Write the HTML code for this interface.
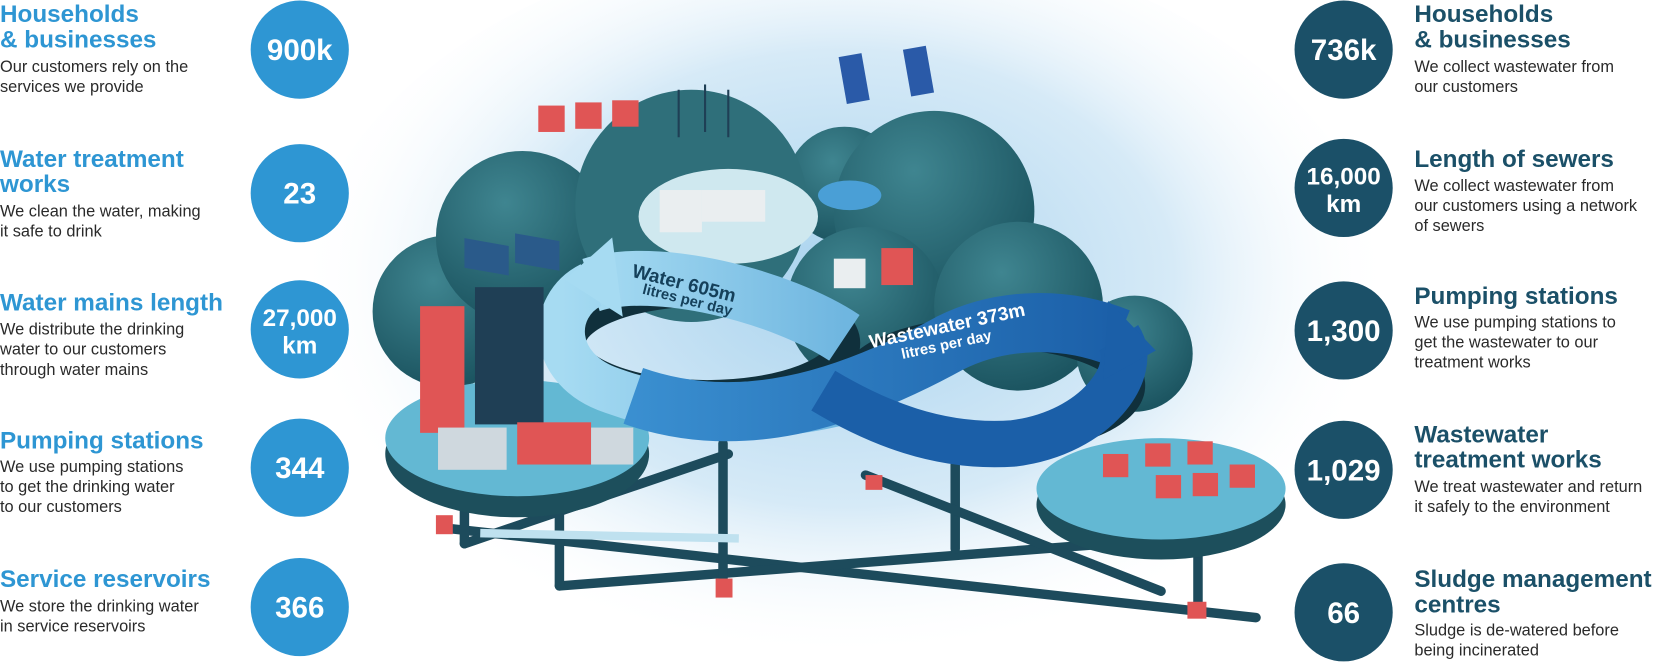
<!DOCTYPE html>
<html><head><meta charset="utf-8"><style>
html,body{margin:0;padding:0;background:#fff;width:1655px;height:663px;overflow:hidden}
svg{display:block}
.t{font-family:"Liberation Sans",sans-serif;font-weight:bold;font-size:23px}
.b{font-family:"Liberation Sans",sans-serif;font-size:15.5px;fill:#2a2a2a}
.n{font-family:"Liberation Sans",sans-serif;font-weight:bold;fill:#fff;text-anchor:middle}
</style></head><body>
<svg width="1655" height="663" viewBox="0 0 1568 628" preserveAspectRatio="none" xmlns="http://www.w3.org/2000/svg">
<defs>
<radialGradient id="bg" cx="0.5" cy="0.45" r="0.5">
<stop offset="0" stop-color="#a9d3ee"/><stop offset="0.6" stop-color="#d6eaf7"/><stop offset="1" stop-color="#ffffff" stop-opacity="0"/>
</radialGradient>
<radialGradient id="hill" cx="0.4" cy="0.3" r="0.7">
<stop offset="0" stop-color="#3f8590"/><stop offset="1" stop-color="#1c5561"/>
</radialGradient>
<linearGradient id="wb" x1="0" x2="1"><stop offset="0" stop-color="#a6dbf2"/><stop offset="1" stop-color="#6fb6e0"/></linearGradient>
<linearGradient id="ww" x1="0" x2="1"><stop offset="0" stop-color="#3a8fd0"/><stop offset="1" stop-color="#1b5fa8"/></linearGradient>
</defs>
<ellipse cx="800" cy="300" rx="520" ry="360" fill="url(#bg)"/>
<g stroke="#1d4b5c" stroke-width="9" fill="none" stroke-linecap="round">
<path d="M420 500 L1190 585"/><path d="M530 555 L1180 505"/><path d="M440 515 L690 430"/>
<path d="M530 555 L530 420"/><path d="M685 560 L685 420"/><path d="M905 520 L905 440"/>
<path d="M1135 575 L1135 490"/><path d="M820 450 L1100 560"/><path d="M440 515 L440 460"/>
</g>
<g fill="#e05555"><rect x="413" y="488" width="16" height="18"/><rect x="678" y="548" width="16" height="18"/><rect x="820" y="450" width="16" height="14"/><rect x="1125" y="570" width="18" height="16"/></g>
<path d="M455 505 L700 510" stroke="#bfe1ef" stroke-width="8"/>
<circle cx="425" cy="295" r="72" fill="url(#hill)"/>
<circle cx="495" cy="225" r="82" fill="url(#hill)"/>
<circle cx="800" cy="175" r="55" fill="url(#hill)"/>
<circle cx="885" cy="200" r="95" fill="url(#hill)"/>
<circle cx="655" cy="195" r="110" fill="#2f6f7a"/>
<ellipse cx="690" cy="205" rx="85" ry="45" fill="#cfe8ef"/>
<circle cx="820" cy="290" r="75" fill="url(#hill)"/>
<circle cx="965" cy="290" r="80" fill="url(#hill)"/>
<circle cx="1075" cy="335" r="55" fill="url(#hill)"/>
<ellipse cx="805" cy="185" rx="30" ry="14" fill="#4a9fd6"/>
<ellipse cx="490" cy="430" rx="125" ry="60" fill="#1d4f5c"/>
<ellipse cx="490" cy="415" rx="125" ry="55" fill="#63b8d3"/>
<ellipse cx="1100" cy="478" rx="118" ry="52" fill="#1d4f5c"/>
<ellipse cx="1100" cy="463" rx="118" ry="48" fill="#63b8d3"/>
<ellipse cx="670" cy="325" rx="130" ry="50" fill="none" stroke="#10303c" stroke-width="30"/>
<ellipse cx="940" cy="365" rx="130" ry="50" fill="none" stroke="#10303c" stroke-width="30"/>
<path d="M560 270 C620 250 740 280 800 320" stroke="url(#wb)" stroke-width="52" fill="none"/>
<path d="M560 270 C520 290 520 350 580 370 C650 395 720 400 800 380" stroke="url(#wb)" stroke-width="44" fill="none"/>
<path d="M600 375 C700 410 800 380 900 325 C950 300 1010 300 1060 320" stroke="url(#ww)" stroke-width="56" fill="none"/>
<path d="M1060 320 C1080 350 1040 410 960 420 C890 425 830 400 780 370" stroke="#1b5fa8" stroke-width="44" fill="none"/>
<polygon points="535,265 580,225 590,300" fill="#a6dbf2"/>
<polygon points="1050,285 1095,332 1045,360" fill="#1b5fa8"/>
<text transform="translate(598,262) rotate(14)" class="n" style="fill:#15405a;font-size:18px;text-anchor:start">Water 605m</text>
<text transform="translate(608,278) rotate(14)" class="n" style="fill:#15405a;font-size:14px;text-anchor:start">litres per day</text>
<text transform="translate(825,330) rotate(-12)" class="n" style="font-size:18px;text-anchor:start">Wastewater 373m</text>
<text transform="translate(855,340) rotate(-12)" class="n" style="font-size:14px;text-anchor:start">litres per day</text>
<rect x="398" y="290" width="42" height="120" fill="#e05555"/>
<rect x="450" y="272" width="65" height="130" fill="#1f3f55"/>
<rect x="415" y="405" width="65" height="40" fill="#cfd8de"/>
<rect x="490" y="400" width="70" height="40" fill="#e05555"/>
<rect x="560" y="405" width="40" height="35" fill="#cfd8de"/>
<rect x="510" y="100" width="25" height="25" fill="#e05555"/><rect x="545" y="97" width="25" height="25" fill="#e05555"/><rect x="580" y="95" width="25" height="25" fill="#e05555"/>
<rect x="440" y="148" width="42" height="28" fill="#2a5a8a" transform="skewY(10)"/><rect x="488" y="135" width="42" height="28" fill="#2a5a8a" transform="skewY(10)"/>
<rect x="625" y="180" width="40" height="40" fill="#eaeef0"/><rect x="665" y="180" width="60" height="30" fill="#eaeef0"/>
<rect x="790" y="245" width="30" height="28" fill="#eaeef0"/><rect x="835" y="235" width="30" height="35" fill="#e05555"/>
<g fill="#e05555"><rect x="1045" y="430" width="24" height="22"/><rect x="1085" y="420" width="24" height="22"/><rect x="1125" y="418" width="24" height="22"/><rect x="1095" y="450" width="24" height="22"/><rect x="1130" y="448" width="24" height="22"/><rect x="1165" y="440" width="24" height="22"/></g>
<rect x="798" y="50" width="22" height="45" fill="#2a5aa8" transform="rotate(-10 820 72)"/><rect x="860" y="45" width="22" height="45" fill="#2a5aa8" transform="rotate(-10 870 72)"/>
<g stroke="#1f3f55" stroke-width="2"><line x1="643" y1="85" x2="643" y2="130"/><line x1="668" y1="80" x2="668" y2="125"/><line x1="690" y1="85" x2="690" y2="130"/></g>
<g fill="#2e96d3">
<circle cx="284" cy="47" r="46.5"/><circle cx="284" cy="183" r="46.5"/><circle cx="284" cy="312" r="46.5"/><circle cx="284" cy="443" r="46.5"/><circle cx="284" cy="575" r="46.5"/>
</g>
<g class="t" fill="#2e96d3">
<text x="0" y="21">Households</text><text x="0" y="45">&amp; businesses</text>
<text x="0" y="158">Water treatment</text><text x="0" y="182">works</text>
<text x="0" y="294">Water mains length</text>
<text x="0" y="425">Pumping stations</text>
<text x="0" y="556">Service reservoirs</text>
</g>
<g class="b">
<text x="0" y="68">Our customers rely on the</text><text x="0" y="87">services we provide</text>
<text x="0" y="205">We clean the water, making</text><text x="0" y="224">it safe to drink</text>
<text x="0" y="317">We distribute the drinking</text><text x="0" y="336">water to our customers</text><text x="0" y="355">through water mains</text>
<text x="0" y="447">We use pumping stations</text><text x="0" y="466">to get the drinking water</text><text x="0" y="485">to our customers</text>
<text x="0" y="579">We store the drinking water</text><text x="0" y="598">in service reservoirs</text>
</g>
<g class="n" style="font-size:28px">
<text x="284" y="57">900k</text><text x="284" y="193">23</text>
<text x="284" y="309" style="font-size:23px">27,000</text><text x="284" y="335" style="font-size:23px">km</text>
<text x="284" y="453">344</text><text x="284" y="585">366</text>
</g>
<g fill="#1b5068">
<circle cx="1273" cy="47" r="46.5"/><circle cx="1273" cy="178" r="46.5"/><circle cx="1273" cy="313" r="46.5"/><circle cx="1273" cy="445" r="46.5"/><circle cx="1273" cy="580" r="46.5"/>
</g>
<g class="n" style="font-size:28px">
<text x="1273" y="57">736k</text>
<text x="1273" y="175" style="font-size:23px">16,000</text><text x="1273" y="201" style="font-size:23px">km</text>
<text x="1273" y="323">1,300</text><text x="1273" y="455">1,029</text><text x="1273" y="590">66</text>
</g>
<g class="t" fill="#1b5068">
<text x="1340" y="21">Households</text><text x="1340" y="45">&amp; businesses</text>
<text x="1340" y="158">Length of sewers</text>
<text x="1340" y="288">Pumping stations</text>
<text x="1340" y="419">Wastewater</text><text x="1340" y="443">treatment works</text>
<text x="1340" y="556">Sludge management</text><text x="1340" y="580">centres</text>
</g>
<g class="b">
<text x="1340" y="68">We collect wastewater from</text><text x="1340" y="87">our customers</text>
<text x="1340" y="181">We collect wastewater from</text><text x="1340" y="200">our customers using a network</text><text x="1340" y="219">of sewers</text>
<text x="1340" y="310">We use pumping stations to</text><text x="1340" y="329">get the wastewater to our</text><text x="1340" y="348">treatment works</text>
<text x="1340" y="466">We treat wastewater and return</text><text x="1340" y="485">it safely to the environment</text>
<text x="1340" y="602">Sludge is de-watered before</text><text x="1340" y="621">being incinerated</text>
</g>
</svg>
</body></html>
